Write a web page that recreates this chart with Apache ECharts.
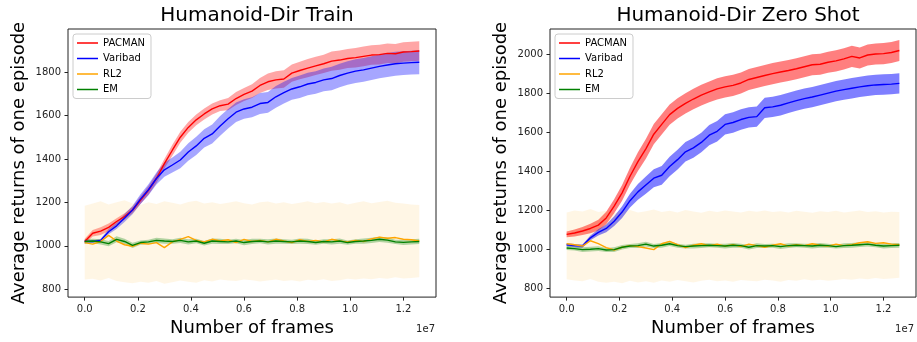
<!DOCTYPE html>
<html>
<head>
<meta charset="utf-8">
<script src="https://cdn.jsdelivr.net/npm/echarts@6/dist/echarts.min.js"></script>
<style>
  html, body { margin: 0; background: #fff; }
  #chart { width: 917px; height: 342px; }
</style>
</head>
<body>
<div id="chart"></div>
<script>
// frames in units of 1e7
var frames = [0, 0.03, 0.06, 0.09, 0.12, 0.15, 0.18, 0.21, 0.24, 0.27, 0.30, 0.33, 0.36, 0.39, 0.42,
  0.45, 0.48, 0.51, 0.54, 0.57, 0.60, 0.63, 0.66, 0.69, 0.72, 0.75, 0.78, 0.81, 0.84, 0.87,
  0.90, 0.93, 0.96, 0.99, 1.02, 1.05, 1.08, 1.11, 1.14, 1.17, 1.20, 1.23, 1.26]
var xTicks = [0, 0.2, 0.4, 0.6, 0.8, 1.0, 1.2]
var trainYTicks = [800, 1000, 1200, 1400, 1600, 1800]
var zeroYTicks = [800, 1000, 1200, 1400, 1600, 1800, 2000]
var methods = ['PACMAN', 'Varibad', 'RL2', 'EM']
var colors = ['#ff0000', '#0000ff', '#ffa500', '#008000']

// Humanoid-Dir Train
var trainPacman = [1020, 1058, 1068, 1085, 1112, 1135, 1165, 1210, 1255, 1310, 1378, 1440, 1500, 1545, 1580,
  1607, 1630, 1645, 1652, 1678, 1697, 1712, 1738, 1755, 1764, 1768, 1795, 1807, 1818, 1828,
  1838, 1850, 1855, 1862, 1866, 1872, 1878, 1880, 1886, 1884, 1892, 1894, 1897]
var trainPacmanStd = [12, 15, 18, 18, 15, 15, 15, 18, 20, 22, 22, 25, 25, 25, 25,
  25, 25, 25, 28, 30, 30, 32, 35, 38, 40, 40, 40, 40, 42, 42,
  42, 44, 44, 44, 45, 45, 45, 45, 45, 45, 45, 45, 45]
var trainVaribad = [1020, 1020, 1025, 1065, 1092, 1128, 1165, 1215, 1258, 1310, 1350, 1372, 1395, 1432, 1460,
  1495, 1515, 1552, 1585, 1615, 1630, 1638, 1655, 1660, 1686, 1705, 1722, 1732, 1745, 1752,
  1764, 1770, 1784, 1795, 1804, 1810, 1818, 1826, 1832, 1838, 1841, 1843, 1845]
var trainVaribadStd = [5, 5, 8, 12, 15, 18, 20, 22, 25, 28, 32, 35, 38, 40, 42,
  42, 44, 45, 45, 45, 45, 46, 48, 48, 50, 50, 50, 52, 52, 52,
  52, 54, 54, 54, 55, 55, 55, 55, 55, 55, 55, 55, 55]
var trainRL2 = [1015, 1008, 1020, 1048, 1022, 1005, 998, 1012, 1008, 1015, 992, 1018, 1030, 1042, 1025,
  1018, 1030, 1022, 1028, 1015, 1030, 1020, 1025, 1018, 1030, 1022, 1015, 1028, 1020, 1025,
  1018, 1030, 1022, 1018, 1025, 1020, 1032, 1040, 1035, 1038, 1030, 1028, 1022]
var trainRL2Low = [845, 848, 840, 852, 838, 832, 828, 835, 830, 838, 826, 832, 840, 835, 830,
  842, 836, 845, 840, 838, 845, 842, 836, 840, 845, 838, 842, 836, 844, 840,
  846, 838, 842, 848, 845, 850, 846, 852, 848, 855, 850, 852, 855]
var trainRL2High = [1185, 1195, 1205, 1190, 1200, 1210, 1195, 1188, 1200, 1192, 1205, 1198, 1190, 1202, 1208,
  1195, 1200, 1192, 1198, 1205, 1196, 1190, 1200, 1204, 1195, 1200, 1192, 1198, 1205, 1196,
  1202, 1195, 1200, 1190, 1198, 1205, 1196, 1202, 1208, 1198, 1195, 1190, 1188]
var trainEM = [1020, 1022, 1018, 1010, 1030, 1020, 1002, 1015, 1018, 1025, 1022, 1020, 1025, 1018, 1022,
  1012, 1022, 1020, 1018, 1022, 1015, 1020, 1022, 1018, 1022, 1020, 1018, 1022, 1020, 1015,
  1020, 1018, 1022, 1015, 1020, 1022, 1025, 1030, 1026, 1018, 1016, 1018, 1020]
var trainEMStd = [10, 10, 12, 12, 14, 12, 12, 10, 10, 12, 12, 10, 12, 12, 10,
  10, 12, 12, 10, 10, 12, 12, 10, 12, 12, 10, 10, 12, 12, 10,
  10, 12, 12, 10, 10, 12, 12, 12, 12, 10, 12, 12, 12]

// Humanoid-Dir Zero Shot
var zeroPacman = [1078, 1085, 1095, 1108, 1125, 1162, 1222, 1290, 1375, 1450, 1515, 1590, 1640, 1690, 1722,
  1748, 1770, 1790, 1806, 1822, 1832, 1840, 1852, 1870, 1880, 1890, 1900, 1908, 1916, 1925,
  1935, 1945, 1948, 1958, 1965, 1975, 1988, 1980, 1995, 2000, 2002, 2008, 2018]
var zeroPacmanStd = [15, 18, 20, 24, 28, 32, 36, 40, 44, 48, 50, 52, 52, 52, 52,
  52, 52, 53, 53, 54, 54, 54, 54, 54, 54, 54, 54, 54, 54, 54,
  54, 54, 54, 54, 54, 54, 54, 54, 54, 54, 54, 54, 54]
var zeroVaribad = [1025, 1020, 1018, 1060, 1088, 1108, 1145, 1192, 1250, 1295, 1330, 1365, 1380, 1425, 1460,
  1500, 1520, 1548, 1585, 1605, 1640, 1650, 1665, 1676, 1680, 1725, 1730, 1738, 1750, 1762,
  1772, 1780, 1790, 1800, 1810, 1818, 1825, 1832, 1838, 1842, 1844, 1846, 1850]
var zeroVaribadStd = [8, 8, 8, 12, 16, 20, 25, 30, 35, 40, 44, 46, 48, 50, 50,
  50, 50, 50, 52, 52, 52, 52, 52, 52, 52, 52, 52, 52, 52, 52,
  52, 52, 52, 52, 52, 52, 52, 52, 52, 52, 52, 52, 52]
var zeroRL2 = [1030, 1025, 1018, 1045, 1030, 1010, 998, 1012, 1020, 1015, 1008, 1000, 1030, 1042, 1025,
  1010, 1022, 1030, 1020, 1028, 1018, 1025, 1015, 1028, 1020, 1012, 1022, 1030, 1018, 1025,
  1020, 1030, 1022, 1018, 1028, 1020, 1025, 1035, 1040, 1032, 1035, 1028, 1025]
var zeroRL2Low = [848, 842, 838, 850, 836, 830, 835, 828, 840, 832, 838, 830, 842, 836, 845,
  838, 832, 840, 846, 838, 842, 836, 845, 840, 838, 846, 842, 836, 844, 840,
  848, 842, 846, 840, 845, 850, 846, 852, 848, 855, 850, 852, 856]
var zeroRL2High = [1190, 1200, 1195, 1208, 1192, 1198, 1188, 1195, 1202, 1190, 1196, 1205, 1192, 1198, 1190,
  1202, 1195, 1188, 1198, 1192, 1200, 1195, 1190, 1198, 1194, 1200, 1192, 1196, 1190, 1198,
  1194, 1188, 1196, 1192, 1198, 1190, 1195, 1200, 1192, 1196, 1190, 1194, 1192]
var zeroEM = [1008, 1005, 1000, 1002, 1005, 998, 1000, 1012, 1018, 1020, 1028, 1018, 1022, 1030, 1020,
  1015, 1018, 1020, 1022, 1020, 1018, 1022, 1020, 1012, 1020, 1018, 1020, 1015, 1020, 1022,
  1020, 1018, 1022, 1020, 1015, 1020, 1022, 1025, 1028, 1022, 1018, 1020, 1022]
var zeroEMStd = [10, 10, 12, 12, 12, 10, 12, 12, 10, 12, 12, 10, 12, 12, 10,
  10, 12, 12, 10, 10, 12, 12, 10, 12, 12, 10, 10, 12, 12, 10,
  10, 12, 12, 10, 10, 12, 12, 12, 12, 10, 12, 12, 12]

var font = 'DejaVu Sans'

function pairs(ys) {
  return frames.map(function(x, i) { return [x, ys[i]] })
}

function lineSeries(name, ys, color, gi) {
  return {
    name: name,
    type: 'line',
    xAxisIndex: gi,
    yAxisIndex: gi,
    data: pairs(ys),
    symbol: 'none',
    lineStyle: { color: color, width: 1.4 },
    itemStyle: { color: color }
  }
}

// shaded band as one polygon, positioned through the axes (api.coord)
function bandSeries(key, lo, hi, fill, gi) {
  var rows = frames.map(function(x, i) { return [x, lo[i], hi[i]] })
  return {
    name: key + ' band',
    type: 'custom',
    xAxisIndex: gi,
    yAxisIndex: gi,
    data: rows,
    encode: { x: 0, y: [1, 2] },
    silent: true,
    renderItem: function(params, api) {
      if (params.dataIndex !== 0) return null
      var top = rows.map(function(r) { return api.coord([r[0], r[2]]) })
      var bottom = rows.map(function(r) { return api.coord([r[0], r[1]]) }).reverse()
      return {
        type: 'polygon',
        shape: { points: top.concat(bottom) },
        style: { fill: fill, stroke: null }
      }
    }
  }
}

function meanBand(key, mean, std, fill, gi) {
  var lo = mean.map(function(v, i) { return v - std[i] })
  var hi = mean.map(function(v, i) { return v + std[i] })
  return bandSeries(key, lo, hi, fill, gi)
}

function panelSeries(gi, d, alpha) {
  return [
    lineSeries('PACMAN', d.pacman, colors[0], gi),
    meanBand('pacman', d.pacman, d.pacmanStd, 'rgba(255,0,0,' + alpha + ')', gi),
    lineSeries('Varibad', d.varibad, colors[1], gi),
    meanBand('varibad', d.varibad, d.varibadStd, 'rgba(0,0,255,' + alpha + ')', gi),
    lineSeries('RL2', d.rl2, colors[2], gi),
    bandSeries('rl2', d.rl2Low, d.rl2High, 'rgba(255,165,0,0.1)', gi),
    lineSeries('EM', d.em, colors[3], gi),
    meanBand('em', d.em, d.emStd, 'rgba(0,128,0,0.3)', gi)
  ]
}

function xAxis(gi) {
  return {
    type: 'value',
    gridIndex: gi,
    min: -0.063,
    max: 1.323,
    name: 'Number of frames',
    nameLocation: 'middle',
    nameGap: 20,
    nameTextStyle: { fontFamily: font, fontSize: 18, color: '#000' },
    axisLine: { show: false, onZero: false },
    axisTick: { show: true, length: 3.5, customValues: xTicks, lineStyle: { color: '#222' } },
    axisLabel: {
      customValues: xTicks,
      margin: 7,
      fontFamily: font,
      fontSize: 10,
      color: '#222',
      formatter: function(v) { return v.toFixed(1) }
    },
    splitLine: { show: false }
  }
}

function yAxis(gi, min, max, ticks) {
  return {
    type: 'value',
    gridIndex: gi,
    min: min,
    max: max,
    name: 'Average returns of one episode',
    nameLocation: 'middle',
    nameGap: 40,
    nameTextStyle: { fontFamily: font, fontSize: 18, color: '#000' },
    axisLine: { show: false, onZero: false },
    axisTick: { show: true, length: 3.5, customValues: ticks, lineStyle: { color: '#222' } },
    axisLabel: {
      customValues: ticks,
      margin: 7,
      fontFamily: font,
      fontSize: 10,
      color: '#222',
      formatter: function(v) { return String(v) }
    },
    splitLine: { show: false }
  }
}

function legend(left) {
  return {
    data: methods,
    left: left,
    top: 34,
    orient: 'vertical',
    icon: 'rect',
    itemWidth: 21,
    itemHeight: 1.5,
    itemGap: 5.5,
    padding: [4, 6, 4, 4],
    borderColor: '#cccccc',
    borderWidth: 1,
    borderRadius: 3,
    textStyle: { fontFamily: font, fontSize: 10, color: '#000', width: 44 },
    selectedMode: false
  }
}

var chart = echarts.init(document.getElementById('chart'))

chart.setOption({
  animation: false,
  backgroundColor: '#fff',
  title: [
    { text: 'Humanoid-Dir Train', left: 252, top: 1, textAlign: 'center',
      textStyle: { fontFamily: font, fontSize: 20, fontWeight: 'normal', color: '#000' } },
    { text: 'Humanoid-Dir Zero Shot', left: 733, top: 1, textAlign: 'center',
      textStyle: { fontFamily: font, fontSize: 20, fontWeight: 'normal', color: '#000' } }
  ],
  legend: [legend(73), legend(555)],
  grid: [
    { left: 68, top: 29, width: 368, height: 275, show: true, borderColor: '#222', borderWidth: 1 },
    { left: 550, top: 29, width: 366, height: 275, show: true, borderColor: '#222', borderWidth: 1 }
  ],
  xAxis: [xAxis(0), xAxis(1)],
  yAxis: [yAxis(0, 764, 1998, trainYTicks), yAxis(1, 757, 2128, zeroYTicks)],
  graphic: [
    { type: 'text', x: 435, y: 329, style: { text: '1e7', fontFamily: font, fontSize: 10, fill: '#222', textAlign: 'right', textVerticalAlign: 'middle' } },
    { type: 'text', x: 914, y: 329, style: { text: '1e7', fontFamily: font, fontSize: 10, fill: '#222', textAlign: 'right', textVerticalAlign: 'middle' } }
  ],
  series: [].concat(
    panelSeries(0, {
      pacman: trainPacman, pacmanStd: trainPacmanStd,
      varibad: trainVaribad, varibadStd: trainVaribadStd,
      rl2: trainRL2, rl2Low: trainRL2Low, rl2High: trainRL2High,
      em: trainEM, emStd: trainEMStd
    }, 0.35),
    panelSeries(1, {
      pacman: zeroPacman, pacmanStd: zeroPacmanStd,
      varibad: zeroVaribad, varibadStd: zeroVaribadStd,
      rl2: zeroRL2, rl2Low: zeroRL2Low, rl2High: zeroRL2High,
      em: zeroEM, emStd: zeroEMStd
    }, 0.5)
  )
})
</script>
</body>
</html>
